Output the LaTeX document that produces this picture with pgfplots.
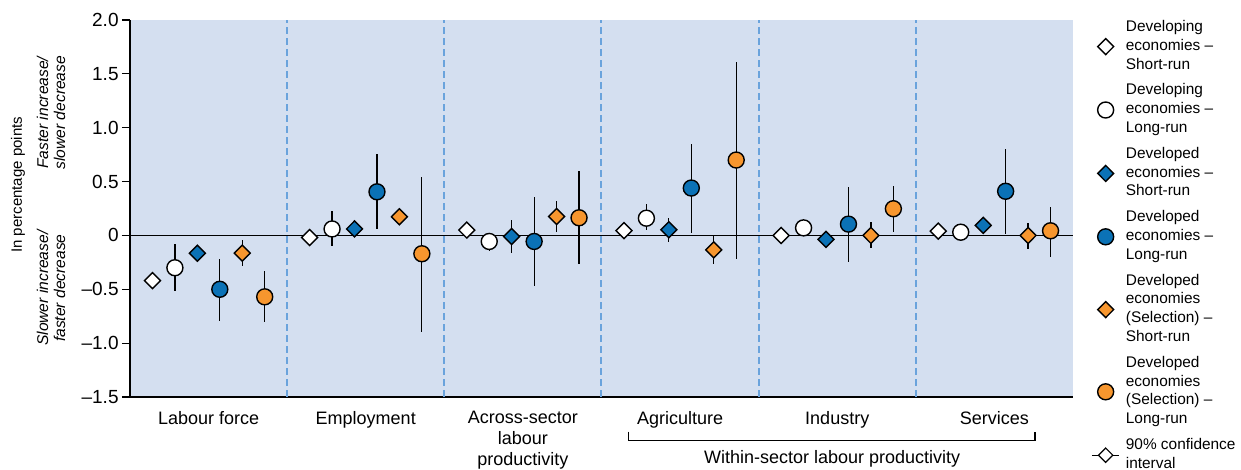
\documentclass[border=0pt]{standalone}
\usepackage{pgfplots}
\pgfplotsset{compat=1.18}
\usepackage{pgfplotstable}
\usepackage{fontspec}
\setmainfont{Liberation Sans}

\definecolor{bgblue}{HTML}{D4DFF0}
\definecolor{dblue}{HTML}{0B72B6}
\definecolor{dorange}{HTML}{F7962E}
\definecolor{sepblue}{HTML}{6AA3DC}

\newcommand{\legtext}[1]{\begin{tabular}{@{}l@{}}#1\end{tabular}}

% x: group*7 + series index; ep/em = upper/lower length of the 90% interval
\pgfplotstableread{
x y ep em
1 -0.42 0 0
8 -0.02 0 0
15 0.05 0 0
22 0.045 0 0
29 0.0 0 0
36 0.04 0 0
}\devSR
\pgfplotstableread{
x y ep em
2 -0.30 0.222 0.22
9 0.06 0.17 0.16
16 -0.056 0.076 0.084
23 0.16 0.13 0.11
30 0.07 0 0
37 0.03 0 0
}\devLR
\pgfplotstableread{
x y ep em
3 -0.165 0 0
10 0.06 0 0
17 -0.01 0.15 0.15
24 0.053 0.107 0.113
31 -0.037 0 0
38 0.093 0 0
}\dvdSR
\pgfplotstableread{
x y ep em
4 -0.50 0.28 0.29
11 0.405 0.35 0.345
18 -0.056 0.412 0.41
25 0.44 0.41 0.42
32 0.105 0.345 0.355
39 0.41 0.39 0.40
}\dvdLR
\pgfplotstableread{
x y ep em
5 -0.165 0.118 0.115
12 0.173 0 0
19 0.176 0.144 0.146
26 -0.134 0.134 0.13
33 0.0 0.127 0.115
40 0.0 0.12 0.13
}\selSR
\pgfplotstableread{
x y ep em
6 -0.57 0.24 0.23
13 -0.17 0.715 0.724
20 0.164 0.436 0.431
27 0.70 0.91 0.917
34 0.248 0.212 0.218
41 0.043 0.217 0.239
}\selLR

\pgfplotsset{
  shortleg/.style={legend image code/.code={\draw[mark repeat=2,mark phase=2,##1] plot coordinates {(0cm,0cm) (0.2cm,0cm) (0.4cm,0cm)};}},
  cileg/.style={legend image code/.code={\draw[mark repeat=2,mark phase=2,##1] plot coordinates {(-0.04cm,0cm) (0.2cm,0cm) (0.44cm,0cm)};}},
  dot/.style={only marks, shortleg},
  dia/.style={dot, mark=diamond*, mark size=4pt, mark options={xscale=1.33, draw=black, line width=0.7pt, fill=#1}},
  circ/.style={dot, mark=*, mark size=4pt, mark options={draw=black, line width=0.7pt, fill=#1}},
  ci/.style={only marks, mark=none, forget plot, error bars/.cd, y dir=both, y explicit, error mark=none, error bar style={black, line width=0.6pt}},
}

\begin{document}
\begin{tikzpicture}
\useasboundingbox (-65pt,-36.5pt) rectangle (555.5pt,198.5pt);
\begin{axis}[
  width=471.5pt, height=188.5pt, scale only axis,
  xmin=0, xmax=42, ymin=-1.5, ymax=2,
  axis x line*=bottom, axis y line*=left,
  axis line style={black, line width=0.6pt},
  axis background/.style={fill=bgblue},
  clip=false,
  ytick={-1.5,-1,-0.5,0,0.5,1,1.5,2},
  yticklabels={\textendash1.5,\textendash1.0,\textendash0.5,0,0.5,1.0,1.5,2.0},
  tick align=outside, major tick length=4pt,
  ytick style={black, line width=0.6pt},
  yticklabel style={font=\fontsize{9.5}{10}\selectfont, inner sep=1.5pt},
  xtick={3.5,10.5,17.5,24.5,31.5,38.5},
  xticklabels={Labour force,Employment,{Across-sector\\labour\\productivity},Agriculture,Industry,Services},
  xtick style={draw=none},
  xticklabel style={align=center, font=\fontsize{9}{10.5}\selectfont, yshift=0.5pt},
  extra x ticks={7,14,21,28,35},
  extra x tick labels={},
  extra x tick style={grid=major, major tick length=0pt, major grid style={sepblue, line width=1pt, dash pattern=on 3.5pt off 2pt}},
  extra y ticks={0}, extra y tick labels={},
  extra y tick style={grid=major, major grid style={black, line width=0.6pt}},
  legend style={at={(1,1)}, anchor=north west, xshift=9pt, yshift=2pt, draw=none, fill=none, inner sep=0pt, row sep=1.5pt, column sep=2pt, font=\fontsize{7.7}{9.4}\selectfont, nodes={inner sep=1pt, text depth={}}},
  legend cell align=left,
]
\addplot[ci] table[x=x,y=y,y error plus=ep,y error minus=em]{\devSR};
\addplot[ci] table[x=x,y=y,y error plus=ep,y error minus=em]{\devLR};
\addplot[ci] table[x=x,y=y,y error plus=ep,y error minus=em]{\dvdSR};
\addplot[ci] table[x=x,y=y,y error plus=ep,y error minus=em]{\dvdLR};
\addplot[ci] table[x=x,y=y,y error plus=ep,y error minus=em]{\selSR};
\addplot[ci] table[x=x,y=y,y error plus=ep,y error minus=em]{\selLR};

\addplot[dia=white] table[x=x,y=y]{\devSR};
\addlegendentry{\legtext{Developing\\economies \textendash\\Short-run}}
\addplot[circ=white] table[x=x,y=y]{\devLR};
\addlegendentry{\legtext{Developing\\economies \textendash\\Long-run}}
\addplot[dia=dblue] table[x=x,y=y]{\dvdSR};
\addlegendentry{\legtext{Developed\\economies \textendash\\Short-run}}
\addplot[circ=dblue] table[x=x,y=y]{\dvdLR};
\addlegendentry{\legtext{Developed\\economies \textendash\\Long-run}}
\addplot[dia=dorange] table[x=x,y=y]{\selSR};
\addlegendentry{\legtext{Developed\\economies\\(Selection) \textendash\\Short-run}}
\addplot[circ=dorange] table[x=x,y=y]{\selLR};
\addlegendentry{\legtext{Developed\\economies\\(Selection) \textendash\\Long-run}}
\addlegendimage{black, line width=0.6pt, mark=diamond*, mark size=3.6pt, mark options={xscale=1.33, fill=white}, cileg}
\addlegendentry{\legtext{90\% confidence\\interval}}

\draw[black, line width=0.6pt] (axis cs:22.22,-1.822) -- (axis cs:22.22,-1.906) -- (axis cs:40.31,-1.906) -- (axis cs:40.31,-1.822);
\node[font=\fontsize{9}{10.5}\selectfont] at (axis cs:31.27,-2.076) {Within-sector labour productivity};
\node[rotate=90, font=\fontsize{7.5}{8}\selectfont] at ([xshift=-56pt]axis cs:0,0.47) {In percentage points};
\node[rotate=90, align=center, font=\fontsize{7.8}{8.5}\selectfont\itshape] at ([xshift=-39.5pt]axis cs:0,1.14) {Faster increase/\\slower decrease};
\node[rotate=90, align=center, font=\fontsize{7.8}{8.5}\selectfont\itshape] at ([xshift=-39.5pt]axis cs:0,-0.49) {Slower increase/\\faster decrease};
\end{axis}
\end{tikzpicture}
\end{document}
